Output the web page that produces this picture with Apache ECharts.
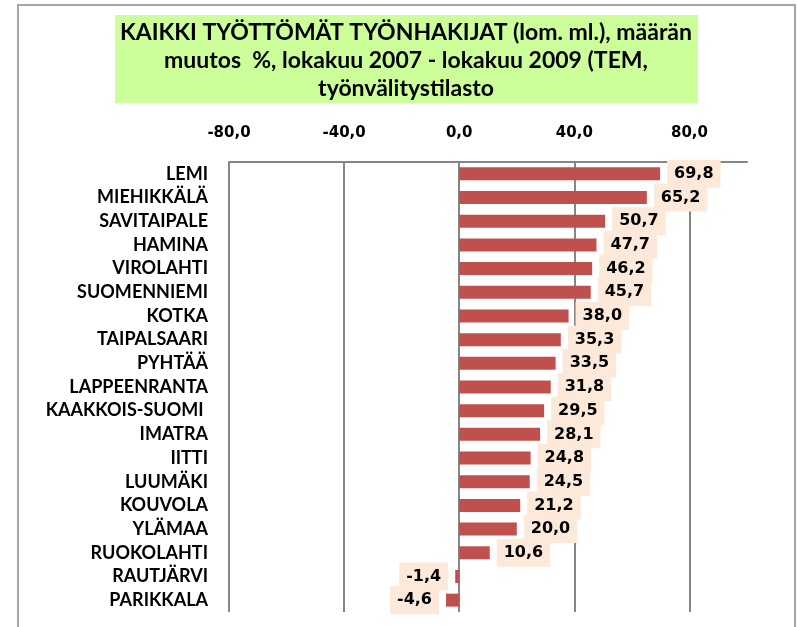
<!DOCTYPE html>
<html>
<head>
<meta charset="utf-8">
<script src="https://cdn.jsdelivr.net/npm/echarts@6/dist/echarts.min.js"></script>
<style>
  html, body { margin: 0; padding: 0; background: #fff; }
  #chart { width: 798px; height: 627px; }
</style>
</head>
<body>
<div id="chart"></div>
<script>
  // kunnat ja muutos %
  var categories = ['LEMI', 'MIEHIKKÄLÄ', 'SAVITAIPALE', 'HAMINA', 'VIROLAHTI', 'SUOMENNIEMI',
    'KOTKA', 'TAIPALSAARI', 'PYHTÄÄ', 'LAPPEENRANTA', 'KAAKKOIS-SUOMI ', 'IMATRA', 'IITTI',
    'LUUMÄKI', 'KOUVOLA', 'YLÄMAA', 'RUOKOLAHTI', 'RAUTJÄRVI', 'PARIKKALA'];
  var values = [69.8, 65.2, 50.7, 47.7, 46.2, 45.7, 38.0, 35.3, 33.5, 31.8, 29.5, 28.1, 24.8,
    24.5, 21.2, 20.0, 10.6, -1.4, -4.6];
  var axisMin = -80, axisMax = 100, axisStep = 40;
  var titleLines = ['KAIKKI TYÖTTÖMÄT TYÖNHAKIJAT (lom. ml.), määrän',
    'muutos  %, lokakuu 2007 - lokakuu 2009 (TEM,',
    'työnvälitystilasto'];

  function fmt(v) {
    return v.toFixed(1).replace('.', ',');
  }

  var calibriLike = 'Lato, "Open Sans", sans-serif';
  var verdanaLike = '"DejaVu Sans", Verdana, sans-serif';

  var barData = values.map(function (v) {
    return {
      value: v,
      label: { position: v < 0 ? 'left' : 'right' }
    };
  });

  var chart = echarts.init(document.getElementById('chart'));
  chart.setOption({
    backgroundColor: '#fff',
    animation: false,
    graphic: [
      {
        type: 'rect',
        z: -10,
        shape: { x: 18, y: 5, width: 777, height: 660 },
        style: { fill: '#fff', stroke: '#a6a6a6', lineWidth: 2 }
      },
      {
        type: 'rect',
        z: -5,
        shape: { x: 115, y: 15, width: 583, height: 88 },
        style: { fill: '#CCFF99' }
      }
    ],
    title: {
      text: titleLines.join('\n'),
      left: 406,
      top: 19,
      padding: 0,
      textAlign: 'center',
      textStyle: {
        fontFamily: calibriLike,
        fontWeight: 'bold',
        fontSize: 23,
        lineHeight: 28,
        color: '#000'
      }
    },
    grid: {
      left: 229,
      right: 51,
      top: 162,
      bottom: 15
    },
    xAxis: {
      type: 'value',
      position: 'top',
      min: axisMin,
      max: axisMax,
      interval: axisStep,
      axisLine: { show: true, lineStyle: { color: '#868686', width: 2 } },
      axisTick: { show: false },
      axisLabel: {
        showMaxLabel: false,
        margin: 21,
        formatter: function (v) { return fmt(v); },
        fontFamily: verdanaLike,
        fontWeight: 'bold',
        fontSize: 15,
        color: '#000'
      },
      splitLine: { show: true, showMaxLine: false, lineStyle: { color: '#868686', width: 2 } }
    },
    yAxis: {
      type: 'category',
      inverse: true,
      data: categories,
      axisLine: { show: false, onZero: false },
      axisTick: { show: false },
      axisLabel: {
        margin: 21,
        fontFamily: calibriLike,
        fontWeight: 'bold',
        fontSize: 18,
        color: '#000'
      }
    },
    series: [
      {
        type: 'bar',
        data: barData,
        barWidth: 13,
        itemStyle: { color: '#C0504D' },
        label: {
          show: true,
          distance: 7,
          formatter: function (p) { return fmt(p.value); },
          fontFamily: verdanaLike,
          fontWeight: 'bold',
          fontSize: 16,
          lineHeight: 16,
          color: '#000',
          backgroundColor: '#FDE9D9',
          padding: [6, 7, 6, 7]
        }
      }
    ]
  });
</script>
</body>
</html>
